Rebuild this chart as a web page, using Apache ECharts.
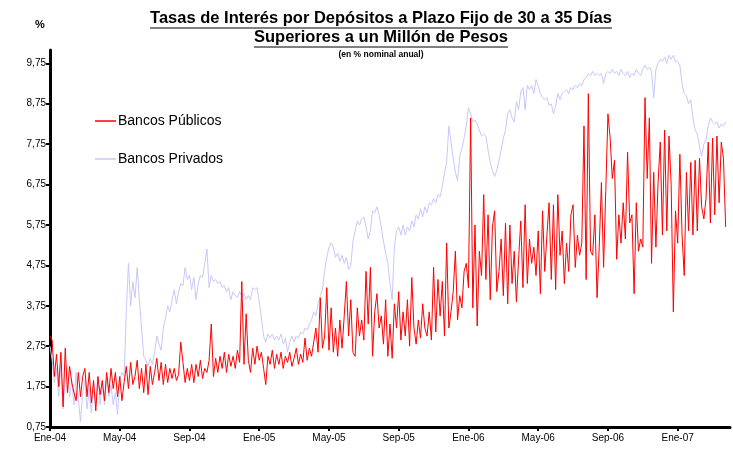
<!DOCTYPE html>
<html>
<head>
<meta charset="utf-8">
<script src="https://cdn.jsdelivr.net/npm/echarts@6/dist/echarts.min.js"></script>
<style>
  html, body { margin: 0; padding: 0; background: #fff; }
  #chart { width: 733px; height: 450px; }
</style>
</head>
<body>
<div id="chart"></div>
<script>
// tick labels (one every 4 months, x = months since Jan-04)
var monthLabels = ['Ene-04', 'May-04', 'Sep-04', 'Ene-05', 'May-05', 'Sep-05', 'Ene-06', 'May-06', 'Sep-06', 'Ene-07'];
var monthTicks = [0, 4, 8, 12, 16, 20, 24, 28, 32, 36];
var yTicks = [0.75, 1.75, 2.75, 3.75, 4.75, 5.75, 6.75, 7.75, 8.75, 9.75];

// Bancos Privados: 8 readings per month
var privadosStep = 0.125;
var privados = [
    2.75, 2.4, 1.85, 2.2, 1.5, 2.3, 1.2, 1.9,
    2.25, 1.5, 1.9, 1.3, 2.1, 1.45, 0.88, 1.6,
    1.9, 1.2, 1.7, 1.1, 1.85, 1.35, 1.95, 1.3,
    1.9, 1.3, 2.0, 1.5, 1.8, 1.3, 1.6, 1.05,
    1.9, 2.1, 2.0, 3.6, 4.8, 3.75, 4.35, 3.95,
    4.7, 3.9, 3.2, 2.5, 2.4, 2.25, 2.45, 2.3,
    2.6, 3.0, 2.8, 2.65, 3.2, 3.45, 3.75, 3.6,
    3.9, 4.15, 3.8, 4.1, 4.3, 4.25, 4.7, 4.4,
    4.5, 4.15, 4.45, 3.9, 4.3, 4.5, 4.45, 4.8,
    5.15, 4.2, 4.5, 4.35, 4.4, 4.3, 4.35, 4.2,
    4.25, 4.1, 4.2, 3.9, 4.1, 4.0, 3.95, 4.1,
    4.0, 4.05, 3.9, 4.0, 3.9, 4.2, 4.15, 4.2,
    3.85, 3.45, 3.0, 2.85, 3.05, 2.95, 3.05, 2.9,
    3.0, 2.9, 3.05, 2.8, 2.95, 2.6, 2.85, 3.0,
    2.85, 3.0, 2.95, 3.1, 3.05, 3.2, 3.15, 3.3,
    3.4, 3.6, 3.5, 3.8, 4.0, 4.15, 4.6, 4.95,
    5.2, 5.3, 5.2, 4.95, 5.05, 4.85, 5.0, 4.8,
    4.95, 4.65, 4.75, 5.35, 5.6, 5.85, 5.75, 5.9,
    5.95, 5.7, 5.4, 5.6, 6.1, 6.05, 6.2, 6.0,
    5.7, 5.35, 5.05, 4.8, 4.3, 3.9, 5.2, 5.6,
    5.7, 5.5, 5.75, 5.5, 5.7, 5.6, 5.85, 5.7,
    6.0, 5.9, 6.15, 5.95, 6.2, 6.05, 6.3, 6.25,
    6.4, 6.3, 6.5, 6.45, 6.7, 7.05, 7.3, 8.2,
    7.8, 7.4, 7.05, 6.85, 7.45, 7.65, 7.9, 8.2,
    8.65, 8.5, 8.3, 8.35, 8.25, 8.1, 7.95, 8.0,
    7.95, 7.6, 7.3, 7.1, 6.95, 7.1, 7.35, 7.6,
    7.9, 8.1, 8.5, 8.6, 8.4, 8.3, 8.8, 8.6,
    9.05, 9.15, 8.6, 9.2, 9.1, 9.2, 9.0, 9.35,
    9.2, 9.0, 8.9, 8.85, 8.9, 8.7, 8.75, 8.5,
    8.7, 9.0, 8.85, 9.0, 9.05, 9.1, 9.0, 9.15,
    9.1, 9.2, 9.15, 9.25, 9.2, 9.35, 9.4, 9.5,
    9.45, 9.55, 9.45, 9.5, 9.45, 9.5, 9.25, 9.5,
    9.55, 9.5, 9.6, 9.5, 9.55, 9.45, 9.6, 9.5,
    9.45, 9.55, 9.4, 9.5, 9.45, 9.6, 9.5, 9.45,
    9.6, 9.7, 9.6, 9.65, 9.55, 8.9, 9.6, 9.75,
    9.85, 9.8, 9.9, 9.75, 9.95, 9.85, 9.95, 9.8,
    9.8, 9.7, 9.25, 9.0, 8.95, 8.75, 8.85, 8.4,
    8.1, 8.0, 7.7, 7.45, 7.75, 7.85, 8.2, 8.4,
    8.3, 8.25, 8.3, 8.15, 8.25, 8.2, 8.3
];

// Bancos Publicos: 8 readings per month
var publicosStep = 0.125;
var publicos = [
    3.0, 2.9, 2.0, 2.55, 1.75, 2.6, 1.25, 2.7,
    1.6, 2.25, 1.85, 1.6, 1.4, 2.1, 1.5, 2.0,
    2.2, 1.5, 2.1, 1.35, 1.9, 1.15, 2.0, 1.55,
    1.9, 1.4, 2.1, 1.6, 2.2, 1.7, 2.1, 1.5,
    2.0, 1.4, 1.85, 2.25, 1.7, 2.35, 1.8, 2.0,
    2.4, 1.7, 2.2, 1.6, 2.3, 1.55, 2.25, 1.8,
    2.1, 2.45, 1.9, 2.35, 1.8, 2.3, 1.85, 2.2,
    1.95, 2.2, 1.9, 2.05, 2.85, 2.35, 1.85, 2.2,
    1.9, 2.3, 1.85, 2.3, 2.0, 2.4, 1.95, 2.2,
    2.1, 2.4, 3.3, 2.0, 2.45, 2.1, 2.5, 2.2,
    2.6, 2.1, 2.55, 2.25, 2.5, 2.2, 2.65, 2.35,
    4.35, 2.3, 3.55, 2.4, 2.1, 2.7, 2.3, 2.75,
    2.4, 2.6, 2.2, 1.8, 2.5, 2.3, 2.65, 2.2,
    2.55, 2.3, 2.6, 2.2, 2.5, 2.35, 2.6, 2.25,
    2.45, 2.7, 2.3, 2.55, 2.35, 2.95, 2.4, 2.7,
    2.5, 2.85, 3.2, 2.6, 3.95, 2.7, 3.0, 4.2,
    2.65, 3.7, 2.6, 3.2, 2.5, 3.4, 2.7, 3.5,
    4.35, 3.0, 3.9, 2.6, 2.5, 3.7, 3.0, 3.4,
    2.9, 4.6, 3.3, 4.7, 2.5, 3.6, 4.05, 3.2,
    3.5, 2.8, 3.9, 2.5, 3.3, 2.45, 3.8, 3.2,
    4.1, 2.9, 3.6, 3.0, 3.9, 2.75, 4.45, 3.2,
    2.8, 3.4, 2.95, 3.8, 3.2, 3.0, 3.6, 2.9,
    4.7, 3.1, 4.4, 3.5, 4.35, 3.0, 5.3, 3.2,
    3.6, 4.1, 5.1, 3.4, 4.0, 3.7, 4.6, 4.8,
    4.2, 8.4, 3.7, 5.75, 3.25, 5.1, 4.5, 6.5,
    4.4, 6.0, 3.9, 5.7, 6.1, 4.1, 4.6, 5.4,
    4.0, 5.8, 3.8, 5.75, 4.3, 5.1, 3.85, 4.9,
    5.85, 4.2, 6.25, 4.3, 5.4, 4.8, 5.2, 4.5,
    5.6, 4.05, 6.1, 4.6, 5.5, 6.3, 4.4, 6.25,
    4.15, 6.5, 5.0, 5.6, 4.3, 5.3, 4.6, 6.0,
    6.25, 4.7, 5.5, 5.0, 5.3, 8.2, 4.4, 9.0,
    5.1, 5.0, 6.0, 3.95, 5.2, 6.8, 4.7, 6.6,
    8.5, 7.9, 6.9, 7.35, 4.9, 6.0, 5.3, 6.3,
    5.4, 7.55, 5.8, 6.0, 4.05, 6.3, 5.1, 5.4,
    5.2, 8.9, 6.9, 8.4, 4.8, 7.05, 5.2, 6.8,
    7.8, 5.5, 8.1, 5.6, 7.95, 6.75, 3.6, 6.1,
    5.3, 7.5, 5.5, 4.5, 7.05, 5.6, 7.3, 5.5,
    7.35, 5.6, 7.4, 6.2, 5.9, 6.4, 7.8, 5.8,
    7.9, 6.0, 7.95, 6.3, 7.8, 7.4, 5.7
];

function toPoints(values, step) {
    return values.map(function (v, i) { return [i * step, v]; });
}

var titleLines = ['Tasas de Interés por Depósitos a Plazo Fijo de 30 a 35 Días', 'Superiores a un Millón de Pesos'];
var titleFont = 'bold 16.5px Arial';
var measureCtx = document.createElement('canvas').getContext('2d');
measureCtx.font = titleFont;

var titleCx = 381;
var graphics = [];
titleLines.forEach(function (t, k) {
    var y = 18 + k * 19;
    var w = measureCtx.measureText(t).width;
    graphics.push({
        type: 'text', x: titleCx, y: y,
        style: { text: t, font: titleFont, fill: '#000', textAlign: 'center', textVerticalAlign: 'middle' }
    });
    graphics.push({
        type: 'line', shape: { x1: titleCx - w / 2, y1: y + 10, x2: titleCx + w / 2, y2: y + 10 },
        style: { stroke: '#000', lineWidth: 1 }
    });
});
graphics.push({
    type: 'text', x: titleCx, y: 55,
    style: { text: '(en % nominal anual)', font: 'bold 8.5px Arial', fill: '#000', textAlign: 'center', textVerticalAlign: 'middle' }
});
graphics.push({
    type: 'text', x: 40, y: 25,
    style: { text: '%', font: 'bold 11px Arial', fill: '#000', textAlign: 'center', textVerticalAlign: 'middle' }
});

var chart = echarts.init(document.getElementById('chart'), null, { renderer: 'canvas' });
chart.setOption({
    animation: false,
    backgroundColor: '#fff',
    textStyle: { fontFamily: 'Arial' },
    graphic: graphics,
    legend: {
        orient: 'vertical',
        left: 90,
        top: 109,
        itemGap: 24,
        itemWidth: 21,
        itemHeight: 1.5,
        icon: 'rect',
        textStyle: { fontSize: 14, color: '#000', fontFamily: 'Arial', padding: [0, 0, 0, -3] },
        data: ['Bancos Públicos', 'Bancos Privados']
    },
    grid: { left: 50, right: 3, top: 50, bottom: 23, containLabel: false },
    xAxis: {
        type: 'value',
        min: 0,
        max: 39,
        axisLine: { show: true, lineStyle: { color: '#000', width: 3 } },
        axisTick: {
            show: true, length: 4, inside: false,
            customValues: monthTicks,
            lineStyle: { color: '#000', width: 2 }
        },
        axisLabel: {
            customValues: monthTicks,
            fontSize: 10, color: '#000', margin: 6,
            formatter: function (v) { return monthLabels[monthTicks.indexOf(Math.round(v))] || ''; }
        },
        splitLine: { show: false }
    },
    yAxis: {
        type: 'value',
        min: 0.75,
        max: 10.08,
        axisLine: { show: true, lineStyle: { color: '#000', width: 3 } },
        axisTick: {
            show: true, length: 4, inside: false,
            customValues: yTicks,
            lineStyle: { color: '#000', width: 2 }
        },
        axisLabel: {
            customValues: yTicks,
            fontSize: 10, color: '#000', margin: 4,
            formatter: function (v) { return v.toFixed(2).replace('.', ','); }
        },
        splitLine: { show: false }
    },
    series: [
        {
            name: 'Bancos Privados',
            type: 'line',
            data: toPoints(privados, privadosStep),
            showSymbol: false,
            color: '#c8c8fa',
            lineStyle: { color: '#c8c8fa', width: 1 },
            z: 2
        },
        {
            name: 'Bancos Públicos',
            type: 'line',
            data: toPoints(publicos, publicosStep),
            showSymbol: false,
            color: '#ff0000',
            lineStyle: { color: '#ff0000', width: 1 },
            z: 3
        }
    ]
});
</script>
</body>
</html>
